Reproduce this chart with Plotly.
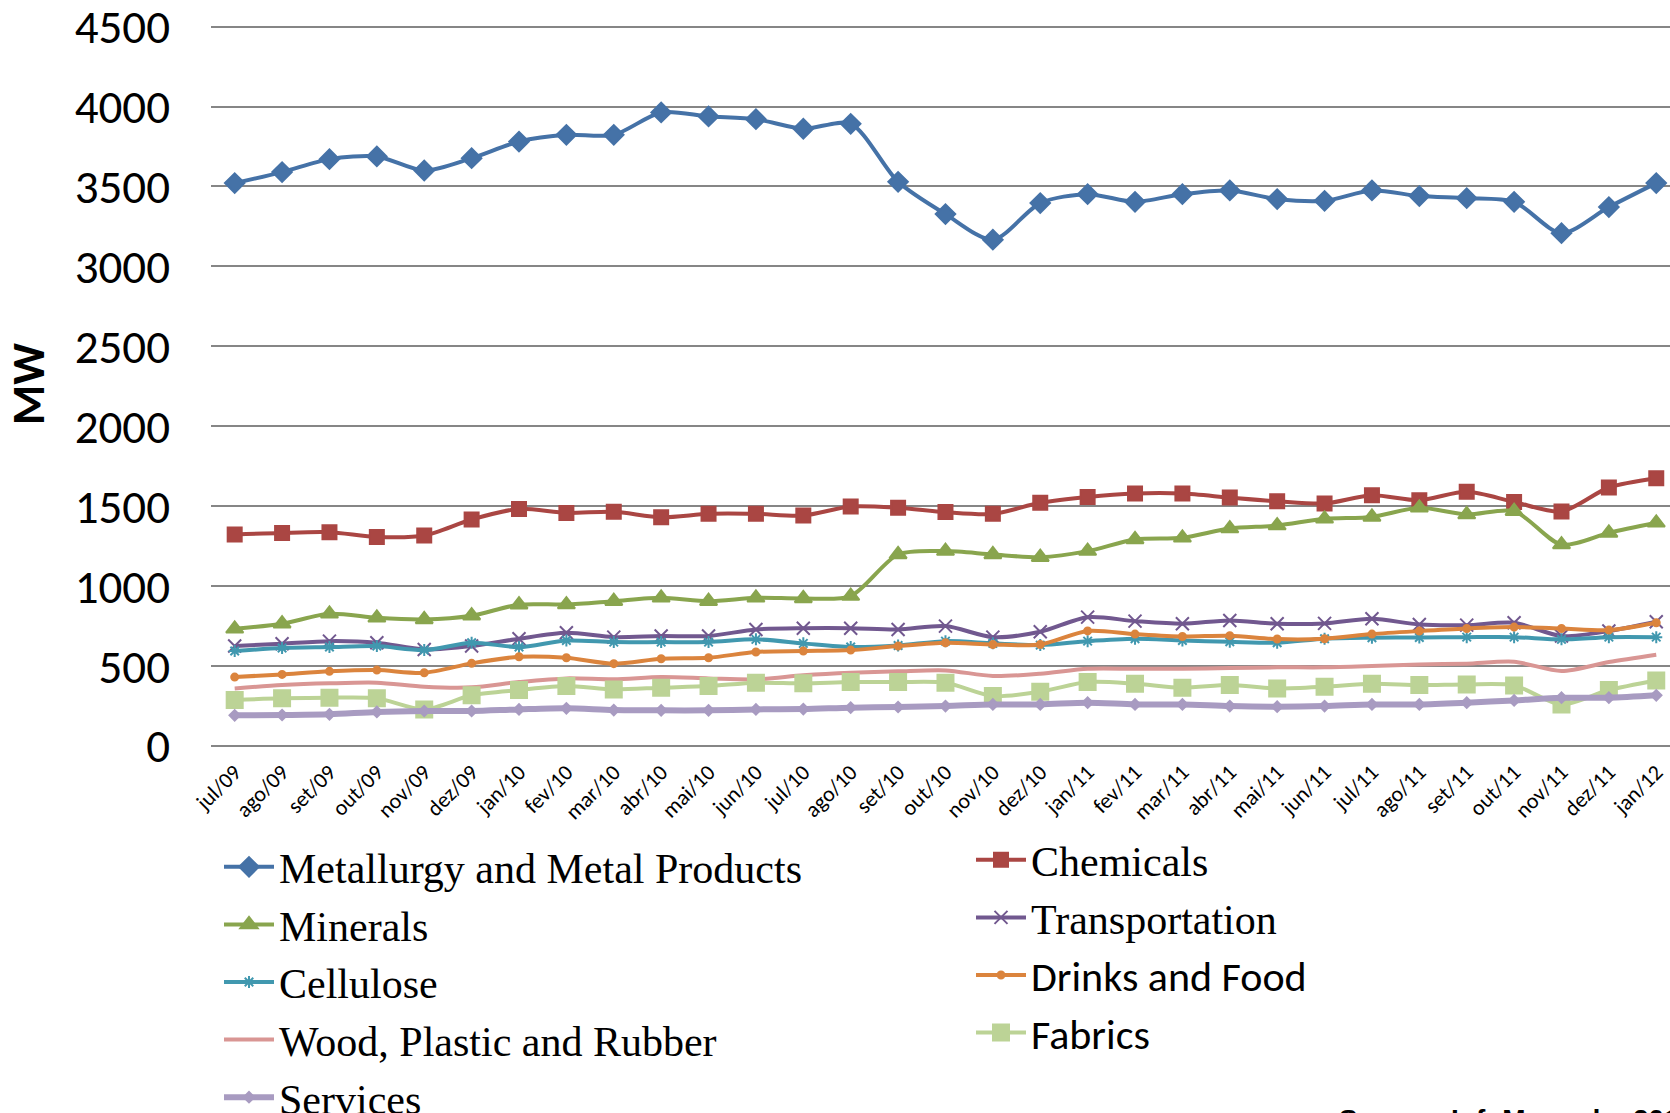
import plotly.graph_objects as go

# Monthly load by industrial sector (MW), jul/2009 - jan/2012
months = ["jul/09", "ago/09", "set/09", "out/09", "nov/09", "dez/09",
          "jan/10", "fev/10", "mar/10", "abr/10", "mai/10", "jun/10",
          "jul/10", "ago/10", "set/10", "out/10", "nov/10", "dez/10",
          "jan/11", "fev/11", "mar/11", "abr/11", "mai/11", "jun/11",
          "jul/11", "ago/11", "set/11", "out/11", "nov/11", "dez/11", "jan/12"]

metallurgy = [3521, 3590, 3671, 3688, 3600, 3677, 3781, 3823, 3823, 3963, 3938,
              3921, 3861, 3892, 3529, 3327, 3167, 3396, 3452, 3404, 3452, 3475,
              3421, 3410, 3475, 3440, 3427, 3404, 3208, 3371, 3521]
chemicals = [1323, 1333, 1337, 1308, 1317, 1417, 1483, 1458, 1465, 1431, 1452,
             1452, 1442, 1498, 1490, 1463, 1452, 1521, 1558, 1579, 1579, 1554,
             1531, 1517, 1569, 1538, 1590, 1527, 1467, 1617, 1675]
minerals = [733, 765, 827, 802, 792, 815, 884, 885, 906, 927, 906,
            927, 923, 938, 1198, 1219, 1198, 1181, 1219, 1292, 1302, 1360,
            1379, 1421, 1433, 1490, 1448, 1469, 1260, 1333, 1396]
transportation = [625, 640, 656, 646, 604, 625, 671, 708, 681, 688, 688,
                  729, 737, 737, 729, 750, 681, 715, 806, 781, 765, 785,
                  765, 767, 796, 760, 756, 771, 688, 719, 777]
cellulose = [594, 613, 619, 625, 600, 646, 619, 660, 650, 650, 650,
             667, 642, 619, 629, 656, 642, 631, 656, 671, 660, 652,
             646, 671, 677, 679, 681, 681, 667, 681, 681]
drinks_food = [431, 448, 467, 475, 458, 517, 558, 552, 515, 546, 552,
               588, 594, 600, 625, 646, 635, 635, 720, 700, 685, 690,
               669, 671, 700, 719, 735, 744, 735, 725, 771]
wood_plastic_rubber = [360, 381, 392, 396, 371, 367, 400, 423, 417, 431, 423,
                       417, 442, 458, 467, 473, 438, 452, 483, 483, 483, 488,
                       492, 492, 500, 510, 515, 527, 469, 525, 571]
fabrics = [288, 298, 302, 298, 229, 317, 350, 375, 354, 365, 375,
           396, 392, 400, 400, 396, 313, 340, 400, 390, 365, 381,
           360, 371, 390, 381, 385, 379, 260, 350, 410]
services = [192, 194, 198, 213, 219, 219, 229, 236, 225, 223, 223,
            229, 231, 240, 244, 250, 260, 260, 271, 260, 260, 250,
            246, 250, 260, 260, 271, 285, 302, 302, 317]

y_ticks = [0, 500, 1000, 1500, 2000, 2500, 3000, 3500, 4000, 4500]

SANS = "Carlito, Lato, sans-serif"
SERIF = "Liberation Serif, Times New Roman, serif"

# plot area in pixels (a little headroom above 4500 so its gridline is kept)
PL, PT, PB, PW = 211, 22, 746, 1459
PH = PB - PT
Y_MAX = 4500 * PH / (PB - 26.6)


def sans(txt):
    return f"<span style='font-family:{SANS}'>{txt}</span>"


def px_x(x):
    return (x - PL) / PW


def px_y(y):
    return (PB - y) / PH


# name, values, color, line width, marker symbol, marker size, legend column
series = [
    ("Metallurgy and Metal Products", metallurgy, "#4572A7", 4, "diamond", 15, "legend"),
    ("Chemicals", chemicals, "#AA4643", 4, "square", 14, "legend2"),
    ("Minerals", minerals, "#89A54E", 4, "triangle-up", 15, "legend"),
    ("Transportation", transportation, "#71588F", 4, "x-thin-open", 13, "legend2"),
    ("Cellulose", cellulose, "#4198AF", 4, "asterisk-open", 10, "legend"),
    (sans("Drinks and Food"), drinks_food, "#DB843D", 4, "circle", 7, "legend2"),
    ("Wood, Plastic and Rubber", wood_plastic_rubber, "#D99694", 4, None, 0, "legend"),
    (sans("Fabrics"), fabrics, "#BCD396", 4, "square", 16, "legend2"),
    ("Services", services, "#A89BC1", 6, "diamond", 8, "legend"),
]

fig = go.Figure()
for name, vals, color, lw, sym, msize, leg in series:
    mode = "lines+markers" if sym else "lines"
    marker = dict(symbol=sym, size=msize, color=color,
                  line=dict(color=color, width=2)) if sym else None
    fig.add_trace(go.Scatter(
        x=months, y=vals, name=name, mode=mode,
        line=dict(color=color, width=lw, shape="spline", smoothing=0.8),
        marker=marker, legend=leg,
    ))

legend_common = dict(
    font=dict(family=SERIF, size=42, color="#000000"),
    bgcolor="rgba(0,0,0,0)", itemwidth=50, traceorder="normal",
    yanchor="top", xanchor="left", orientation="v", itemsizing="trace",
)

fig.update_layout(
    width=1670, height=1113,
    margin=dict(l=PL, r=0, t=PT, b=1113 - PB, autoexpand=False),
    paper_bgcolor="white", plot_bgcolor="white",
    showlegend=True,
    legend=dict(x=px_x(219), y=px_y(833), **legend_common),
    legend2=dict(x=px_x(971), y=px_y(826), **legend_common),
    xaxis=dict(
        range=[-0.5, 30.29], showgrid=False, showline=False, zeroline=False,
        tickangle=-45, tickfont=dict(family=SANS, size=22, color="#000000"),
        ticks="", ticklabelstandoff=8, fixedrange=True, automargin=False,
    ),
    yaxis=dict(
        range=[0, Y_MAX], tickvals=y_ticks, ticktext=[str(v) for v in y_ticks],
        showgrid=True, gridcolor="#868686", gridwidth=2,
        zeroline=True, zerolinecolor="#868686", zerolinewidth=2,
        showline=False, ticks="", ticklabelstandoff=40, automargin=False,
        ticklabeloverflow="allow",
        tickfont=dict(family=SANS, size=47, color="#000000"),
        title=dict(text="<b>MW</b>", font=dict(family=SANS, size=46, color="#000000"),
                   standoff=18),
    ),
    annotations=[dict(
        text="<b>Source: InfoMercado, 2012</b>",
        xref="paper", yref="paper", x=px_x(1337), y=px_y(1102),
        xanchor="left", yanchor="top", showarrow=False,
        font=dict(family="Liberation Sans, Arial, sans-serif", size=28, color="#000000"),
    )],
)

fig.write_html("out.html")
